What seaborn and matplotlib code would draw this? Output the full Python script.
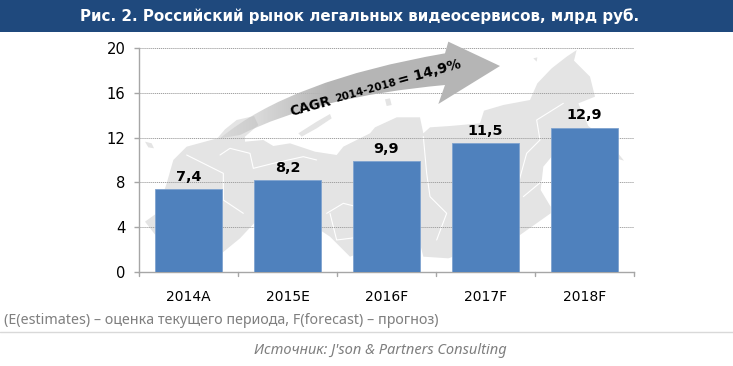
import matplotlib
matplotlib.use("Agg")
import matplotlib.pyplot as plt
from matplotlib.patches import Polygon, PathPatch, Rectangle
from matplotlib.path import Path
import numpy as np
import pandas as pd
import seaborn as sns

years = ["2014A", "2015E", "2016F", "2017F", "2018F"]
values = [7.4, 8.2, 9.9, 11.5, 12.9]
labels = ["7,4", "8,2", "9,9", "11,5", "12,9"]
yticks = [0, 4, 8, 12, 16, 20]
title = "Рис. 2. Российский рынок легальных видеосервисов, млрд руб."
note = "(E(estimates) – оценка текущего периода, F(forecast) – прогноз)"
source = "Источник: J'son & Partners Consulting"

W, H = 733, 366
sns.set_theme(style="white")
plt.rcParams["font.family"] = ["DejaVu Sans"]

def z(pts):
    """Crop coordinates (3x, origin 130,40) to figure pixels."""
    return [(130 + x / 3, 40 + y / 3) for x, y in pts]

fig = plt.figure(figsize=(W / 100, H / 100), dpi=100, facecolor="white")

# background map (decorative, pixel coordinates)
bg = fig.add_axes([0, 0, 1, 1], zorder=1)
bg.set_xlim(0, W)
bg.set_ylim(H, 0)
bg.axis("off")
russia = z([(130, 360), (170, 320), (225, 305), (262, 295), (285, 268), (320, 240), (372, 228), (385, 255), (345, 290),
            (345, 305), (400, 300), (430, 318), (480, 310), (555, 335), (620, 345), (640, 320), (680, 300), (720, 280),
            (735, 262), (800, 232), (870, 232), (880, 280), (900, 262), (960, 258), (1050, 250), (1062, 212),
            (1120, 195), (1200, 180), (1222, 130), (1265, 85), (1310, 50), (1340, 30), (1332, 62), (1380, 110),
            (1395, 170), (1345, 190), (1375, 258), (1440, 310), (1482, 362), (1440, 350), (1395, 315), (1350, 285),
            (1290, 320), (1240, 380), (1232, 450), (1262, 500), (1262, 520), (1170, 585), (1100, 620), (1000, 640),
            (955, 655), (880, 650), (870, 610), (800, 600), (660, 650), (600, 590), (570, 570), (400, 520),
            (330, 595), (275, 640), (270, 590), (80, 590), (45, 545), (80, 520), (110, 430)])
bg.add_patch(Polygon(russia, closed=True, facecolor="#e4e4e4", edgecolor="none"))
for part in ([(505, 280), (560, 245), (600, 222), (605, 235), (560, 265), (515, 290)],
             [(45, 305), (65, 310), (72, 325), (55, 322)],
             [(765, 178), (780, 175), (785, 195), (770, 198)],
             [(1210, 55), (1222, 52), (1220, 65)]):
    bg.add_patch(Polygon(z(part), closed=True, facecolor="#e4e4e4", edgecolor="none"))
for line in ([(270, 345), (300, 325), (360, 340), (370, 385), (430, 370), (520, 350), (560, 360)],
             [(170, 345), (220, 370), (280, 400), (280, 480), (340, 520)],
             [(590, 520), (640, 490), (720, 510), (800, 560)],
             [(880, 290), (890, 400), (900, 470), (950, 520), (920, 600)],
             [(1165, 430), (1190, 340), (1230, 300), (1220, 240), (1300, 190)],
             [(1180, 470), (1240, 420)],
             [(600, 520), (620, 600), (700, 590)]):
    bg.plot(*zip(*z(line)), color="white", lw=0.8)

ax = fig.add_axes([139 / W, 1 - 272 / H, (634 - 139) / W, (272 - 48) / H], zorder=2)
ax.patch.set_alpha(0)
df = pd.DataFrame({"year": years, "value": values})
sns.barplot(data=df, x="year", y="value", color="#4F81BD", saturation=1, width=0.67, ax=ax, zorder=3,
            edgecolor="#7fa3cf", linewidth=0.6)
ax.set_xlim(-0.5, 4.5)
ax.set_ylim(0, 20)
ax.set_yticks(yticks)
ax.set_xlabel("")
ax.set_ylabel("")
ax.yaxis.grid(True, color="#a0a0a0", linestyle=(0, (1.2, 0.8)), linewidth=0.7)
ax.set_axisbelow(True)
for s in ("top", "right"):
    ax.spines[s].set_visible(False)
for s in ("left", "bottom"):
    ax.spines[s].set_color("#a6a6a6")
    ax.spines[s].set_linewidth(1.0)
ax.tick_params(axis="y", left=True, length=3.6, width=1, color="#a6a6a6", labelsize=10.6, labelcolor="black", pad=6)
ax.tick_params(axis="x", bottom=False, labelsize=10, labelcolor="black", pad=7)
for i in range(6):
    ax.plot([i - 0.5, i - 0.5], [0, -0.35], color="#a6a6a6", lw=1, clip_on=False)
for i, (v, l) in enumerate(zip(values, labels)):
    ax.text(i, v + 0.45, l, ha="center", va="bottom", fontsize=10.4, fontweight="bold", color="black", zorder=5)

# header
fig.add_artist(Rectangle((0, 1 - 32 / H), 1, 32 / H, transform=fig.transFigure, facecolor="#1F497D", edgecolor="none"))
fig.text(360 / W, 1 - 16 / H, title, ha="center", va="center", color="white", fontsize=10.9, fontweight="bold")

# CAGR arrow with gradient
ov = fig.add_axes([0, 0, 1, 1], zorder=4)
ov.set_xlim(0, W)
ov.set_ylim(H, 0)
ov.axis("off")
ov.patch.set_alpha(0)
verts = z([(270, 295), (480, 120), (945, 40), (955, 5), (1110, 78), (925, 192), (945, 135), (560, 170), (330, 285), (270, 295)])
codes = [Path.MOVETO, Path.CURVE3, Path.CURVE3, Path.LINETO, Path.LINETO, Path.LINETO, Path.LINETO, Path.CURVE3,
         Path.CURVE3, Path.CLOSEPOLY]
patch = PathPatch(Path(verts, codes), facecolor="none", edgecolor="none")
ov.add_patch(patch)
grad = np.zeros((2, 256, 4))
grad[..., :3] = 0.71
grad[..., 3] = np.clip(np.linspace(0.25, 2.2, 256), 0, 1)
im = ov.imshow(grad, extent=(220, 500, H, 0), aspect="auto", interpolation="bilinear", zorder=3)
im.set_clip_path(patch)
ov.set_xlim(0, W)
ov.set_ylim(H, 0)

# rotated label pieces placed along the arrow
ang = np.deg2rad(15.6)
def piece(d, txt, size):
    x0, y0 = 290, 112
    ov.text(x0 + d * np.cos(ang), y0 - d * np.sin(ang), txt, rotation=15.6, rotation_mode="anchor",
            ha="left", va="center", fontsize=size, fontweight="bold", color="black", zorder=5)
piece(0, "CAGR", 9.8)
piece(47, "2014-2018", 7.6)
piece(113, "= 14,9%", 10)

# footer
ov.text(4, 320, note, ha="left", va="center", fontsize=10.25, color="#7f7f7f", family=["Noto Sans", "DejaVu Sans"])
ov.plot([0, W], [332, 332], color="#d9d9d9", lw=1)
ov.text(507, 351, source, ha="right", va="center", fontsize=10.5, style="italic", color="#7f7f7f",
        family=["Noto Sans", "DejaVu Sans"])

fig.savefig("out.png", dpi=100)
